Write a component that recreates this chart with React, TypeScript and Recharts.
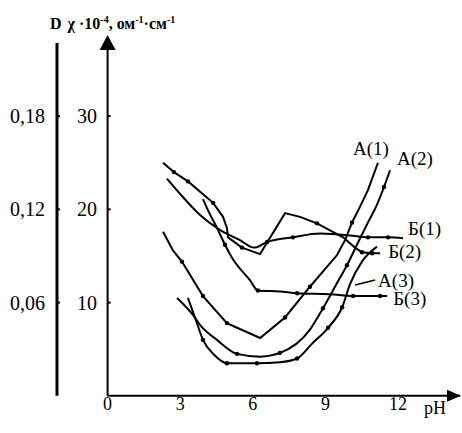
import React from 'react';
import { ComposedChart, Line, XAxis, YAxis, ReferenceDot, Label, LabelList } from 'recharts';

// pH axis ticks
const xTicks = [0, 3, 6, 9, 12];
// conductivity χ·10^4 ticks
const chiTicks = [10, 20, 30];
// optical density D ticks
const dTicks = [0.06, 0.12, 0.18];

// each point: [pH, χ·10^4, experimental marker (1/0)]
const curveA1: number[][] = [
  [2.29, 17.6, 0], [2.7, 15.6, 0], [3.07, 14.4, 1], [3.94, 10.7, 1], [4.93, 7.8, 1], [5.35, 7.3, 0],
  [6.3, 6.2, 0], [7.33, 8.4, 1], [8.36, 11.7, 1], [9.48, 15.1, 0], [9.81, 16.7, 0], [10.1, 18.6, 1],
  [10.43, 20.3, 0], [10.76, 22.1, 0], [11.17, 25.0, 0],
];
const curveA2: number[][] = [
  [2.87, 10.5, 0], [3.61, 8.4, 0], [3.82, 7.6, 0], [4.52, 6.0, 0], [5.35, 4.5, 1], [6.3, 4.2, 0],
  [7.12, 4.6, 1], [8.36, 7.1, 0], [8.9, 9.4, 1], [9.48, 12.1, 0], [9.89, 14.0, 1], [10.3, 16.2, 0],
  [10.72, 18.4, 0], [11.13, 20.5, 0], [11.42, 22.4, 1], [11.67, 24.2, 0],
];
const curveA3: number[][] = [
  [3.32, 10.5, 0], [3.65, 8.1, 0], [3.94, 6.0, 1], [4.4, 4.4, 0], [4.93, 3.5, 1], [6.17, 3.5, 1],
  [7.12, 3.6, 0], [7.83, 4.0, 1], [8.45, 5.6, 0], [9.11, 7.3, 1], [9.69, 9.5, 1], [10.02, 12.0, 0],
  [10.51, 14.4, 0], [11.13, 16.0, 0],
];
const curveB1: number[][] = [
  [2.45, 23.3, 0], [3.12, 21.3, 0], [3.82, 19.4, 0], [4.64, 17.8, 0], [5.47, 16.7, 0], [6.05, 15.9, 0],
  [6.59, 16.5, 1], [7.66, 17.0, 1], [8.78, 17.4, 0], [10.02, 17.2, 0], [10.76, 17.0, 1], [11.59, 17.0, 1],
  [12.21, 16.9, 0],
];
const curveB2: number[][] = [
  [2.29, 25.0, 0], [2.74, 24.0, 1], [3.32, 23.0, 1], [4.36, 20.7, 1], [4.77, 19.2, 0], [4.93, 18.0, 0],
  [4.98, 17.0, 0], [5.55, 15.9, 1], [6.3, 15.2, 0], [7.33, 19.6, 0], [7.95, 19.2, 0], [8.65, 18.5, 1],
  [9.73, 17.0, 0], [10.22, 15.9, 0], [10.51, 15.4, 1], [10.93, 15.3, 1], [11.26, 15.3, 0],
];
const curveB3: number[][] = [
  [3.94, 21.1, 0], [4.15, 19.9, 0], [4.56, 17.8, 0], [4.85, 16.2, 1], [5.14, 14.8, 0], [5.88, 12.4, 0],
  [6.21, 11.3, 1], [7.12, 11.2, 0], [7.83, 11.0, 1], [9.19, 10.9, 0], [10.14, 10.7, 1], [11.26, 10.7, 1],
  [11.55, 10.7, 0],
];

const seriesNames = ['А(1)', 'А(2)', 'А(3)', 'Б(1)', 'Б(2)', 'Б(3)'];
const seriesData = [curveA1, curveA2, curveA3, curveB1, curveB2, curveB3];

// presentation: curve type, label anchor point, label offsets
const seriesStyle = [
  { type: 'linear', at: -1, dx: -7, dy: -8, anchor: 'middle', pointer: false },
  { type: 'monotone', at: -1, dx: 7, dy: -5, anchor: 'start', pointer: false },
  { type: 'monotone', at: 11, dx: 28, dy: 3, anchor: 'start', pointer: true },
  { type: 'monotone', at: -1, dx: 5, dy: -3, anchor: 'start', pointer: false },
  { type: 'linear', at: -1, dx: 8, dy: 5, anchor: 'start', pointer: false },
  { type: 'monotone', at: -1, dx: 6, dy: 9, anchor: 'start', pointer: false },
];

const X_MAX = 14.56;
const CHI_MAX = 37.85;
const D_PER_CHI = 0.006;

const FONT = '"Liberation Serif", "Times New Roman", serif';
const CSS = `.recharts-wrapper text, .recharts-wrapper tspan { font-family: "Liberation Serif", "Times New Roman", serif; }`;

const renderDot = (p: any) => {
  if (p.payload && p.payload.m) {
    return <circle key={`d${p.index}`} cx={p.cx} cy={p.cy} r={2.2} fill="#000" />;
  }
  return <g key={`d${p.index}`} />;
};

export default function App() {
  return (
    <div style={{ position: 'absolute', left: 0, top: 0, width: 462, height: 433, background: '#fff', fontFamily: FONT }}>
      <style>{CSS}</style>
      <ComposedChart width={462} height={433} margin={{ top: 43, right: 2, bottom: 0, left: 0 }}>
        <XAxis
          type="number"
          dataKey="x"
          domain={[0, X_MAX]}
          ticks={xTicks}
          allowDataOverflow
          height={37.2}
          axisLine={{ stroke: '#000', strokeWidth: 2 }}
          tickLine={false}
          tickSize={0}
          tickMargin={1}
          tick={{ fill: '#000', fontSize: 18 }}
        >
          <Label
            content={() => (
              <text x={424} y={414} fontSize={18} fill="#000">pH</text>
            )}
          />
        </XAxis>
        <YAxis
          yAxisId="chi"
          type="number"
          domain={[0, CHI_MAX]}
          ticks={chiTicks}
          allowDataOverflow
          width={50.6}
          axisLine={{ stroke: '#000', strokeWidth: 2 }}
          tickLine={{ stroke: '#000', strokeWidth: 2 }}
          tickSize={-3}
          tickMargin={13.6}
          tick={{ fill: '#000', fontSize: 20 }}
        />
        <YAxis
          yAxisId="dens"
          type="number"
          domain={[0, CHI_MAX * D_PER_CHI]}
          ticks={dTicks}
          allowDataOverflow
          width={57}
          axisLine={{ stroke: '#000', strokeWidth: 3 }}
          tickLine={{ stroke: '#000', strokeWidth: 2 }}
          tickSize={-3}
          tickMargin={15}
          tickFormatter={(v: number) => v.toFixed(2).replace('.', ',')}
          tick={{ fill: '#000', fontSize: 20 }}
        >
          <Label
            content={() => (
              <text x={50} y={29} fontSize={16} fontWeight="bold" fill="#000">
                D
                <tspan dx={6}>χ ·10</tspan>
                <tspan dy={-6} fontSize={10}>-4</tspan>
                <tspan dy={6}>, ом</tspan>
                <tspan dy={-6} fontSize={10}>-1</tspan>
                <tspan dy={6}>·см</tspan>
                <tspan dy={-6} fontSize={10}>-1</tspan>
              </text>
            )}
          />
        </YAxis>

        {seriesData.map((pts, si) => {
          const rows = pts.map(([x, y, m]) => ({ x, y, m }));
          const st = seriesStyle[si];
          const labelIdx = st.at < 0 ? rows.length - 1 : st.at;
          return (
            <Line
              key={seriesNames[si]}
              yAxisId="chi"
              data={rows}
              dataKey="y"
              type={st.type as any}
              stroke="#000"
              strokeWidth={2}
              dot={renderDot}
              activeDot={false}
              isAnimationActive={false}
            >
              <LabelList
                dataKey="y"
                content={(p: any) => {
                  if (p.index !== labelIdx) return null;
                  const x = Number(p.x);
                  const y = Number(p.y);
                  return (
                    <g>
                      {st.pointer && (
                        <line x1={x + 5} y1={y + 1} x2={x + 25} y2={y - 4} stroke="#000" strokeWidth={1.5} />
                      )}
                      <text x={x + st.dx} y={y + st.dy} textAnchor={st.anchor as any} fontSize={19} fill="#000">
                        {seriesNames[si]}
                      </text>
                    </g>
                  );
                }}
              />
            </Line>
          );
        })}

        <ReferenceDot
          yAxisId="chi"
          x={0}
          y={CHI_MAX}
          ifOverflow="visible"
          shape={(p: any) => (
            <path d={`M${p.cx},${p.cy - 8} L${p.cx - 8},${p.cy + 7} L${p.cx + 8},${p.cy + 7} Z`} fill="#000" />
          )}
        />
        <ReferenceDot
          yAxisId="chi"
          x={X_MAX}
          y={0}
          ifOverflow="visible"
          shape={(p: any) => (
            <path d={`M${p.cx + 1},${p.cy} L${p.cx - 13},${p.cy - 6} L${p.cx - 13},${p.cy + 6} Z`} fill="#000" />
          )}
        />
      </ComposedChart>
    </div>
  );
}
